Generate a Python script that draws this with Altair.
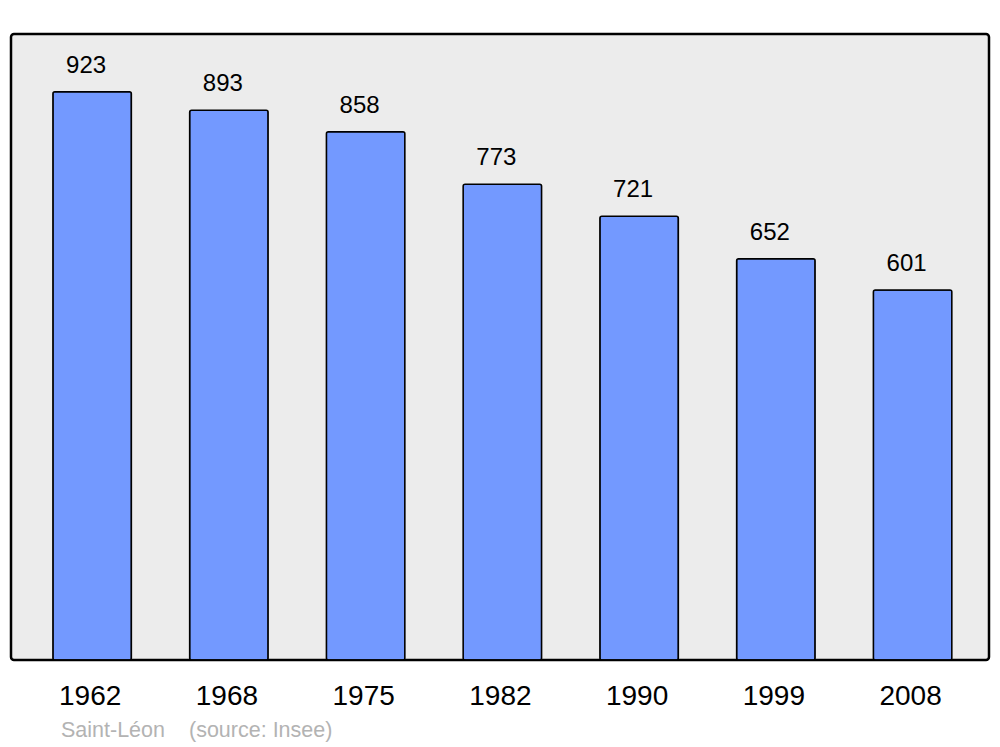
import altair as alt
import pandas as pd

years = ["1962", "1968", "1975", "1982", "1990", "1999", "2008"]
population = [923, 893, 858, 773, 721, 652, 601]
footer_place = ["Saint-Léon"]
footer_source = ["(source: Insee)"]

df = pd.DataFrame({"year": years, "pop": population})

FONT = "Liberation Sans"

x = alt.X("year:N", sort=years,
          scale=alt.Scale(paddingInner=0.426, paddingOuter=0.289, align=0.53),
          axis=alt.Axis(title=None, domain=False, ticks=False, labelAngle=0,
                        labelFontSize=28, labelFont=FONT, labelColor="black",
                        labelPadding=22, labelOffset=-2))
y = alt.Y("pop:Q", scale=alt.Scale(domain=[0, 1017], nice=False, zero=True), axis=None)

bars = alt.Chart(df).mark_bar(
    color="#7399ff", stroke="black", strokeWidth=1.5, cornerRadius=2
).encode(x=x, y=y)

labels = alt.Chart(df).mark_text(
    baseline="middle", dy=-26, dx=-6, fontSize=24, font=FONT, color="black"
).encode(x=x, y=y, text="pop:Q")

f1 = alt.Chart(pd.DataFrame({"t": footer_place})).mark_text(
    align="left", baseline="middle", fontSize=21.5, font=FONT, color="#b3b3b3"
).encode(x=alt.value(50), y=alt.value(697), text="t:N")

f2 = alt.Chart(pd.DataFrame({"t": footer_source})).mark_text(
    align="left", baseline="middle", fontSize=21.5, font=FONT, color="#b3b3b3"
).encode(x=alt.value(178), y=alt.value(697), text="t:N")

chart = alt.layer(bars, labels, f1, f2).properties(
    width=978, height=626,
    padding={"left": 3, "top": 26, "right": 3, "bottom": 85},
    autosize=alt.AutoSizeParams(type="none"),
    background="white",
).configure_view(
    fill="#ececec", stroke="black", strokeWidth=2.5, cornerRadius=3
)

chart.save("out.html", embed_options={"renderer": "svg", "actions": False})
